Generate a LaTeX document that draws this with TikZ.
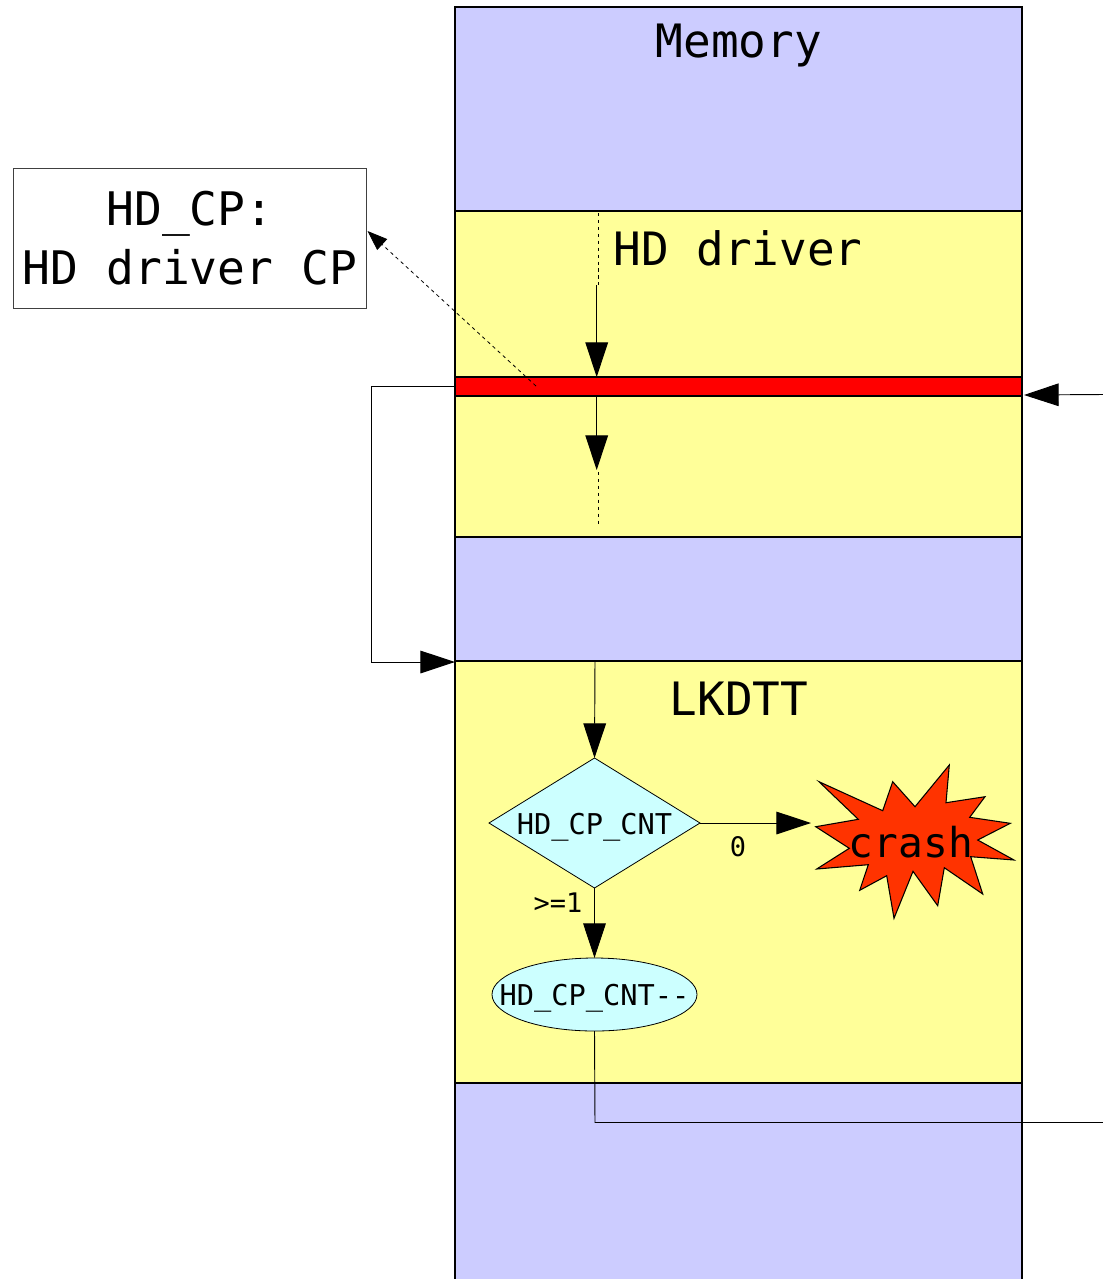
\documentclass[tikz,border=0pt]{standalone}
\usepackage{fontspec}
\usetikzlibrary{arrows.meta,shapes.geometric}
\newfontfamily\dvmono{DejaVu Sans Mono}
\definecolor{memblue}{HTML}{CCCCFF}
\definecolor{memyellow}{HTML}{FFFF99}
\definecolor{memred}{HTML}{FF0000}
\definecolor{crashred}{HTML}{FF3300}
\definecolor{shapecyan}{HTML}{CCFFFF}
\newcommand{\fsz}[1]{\fontsize{#1}{#1}\selectfont}
\newcommand{\shapetext}[2]{\raisebox{#1}[0pt][0pt]{\makebox[0pt]{#2}}}
\tikzset{
  x=0.75pt,y=-0.75pt,
  block/.style={draw=black,line width=1.1pt,minimum width=425.25pt,inner sep=0pt,outer sep=0pt},
  biglabel/.style={inner sep=0pt,outer sep=0pt,anchor=base,font=\dvmono\fsz{34.5}},
  smalllabel/.style={inner sep=0pt,outer sep=0pt,anchor=base,font=\dvmono\fsz{20.2}},
  wire/.style={draw=black,line width=0.7pt},
  flow/.style={wire,-{Triangle[length=26pt,width=17pt]}},
  dots/.style={draw=black,line width=0.6pt,dash pattern=on 2.6pt off 2.6pt},
  tinyflow/.style={dots,-{Triangle[length=15pt,width=11pt,sep=0pt]}},
  decide/.style={diamond,draw=black,line width=0.6pt,fill=shapecyan,aspect=1.62,inner sep=0pt,outer sep=0pt,minimum width=158.25pt,minimum height=97.5pt,font=\dvmono\fsz{21.5}},
  action/.style={ellipse,draw=black,line width=0.6pt,fill=shapecyan,inner sep=0pt,outer sep=0pt,minimum width=153.75pt,minimum height=54.75pt,font=\dvmono\fsz{21.5}},
}
\begin{document}
\begin{tikzpicture}
\useasboundingbox (0,0) rectangle (1103,1279);
% memory blocks
\node[block,fill=memblue,minimum height=153pt] (mem1) at (738.5,109) {};
\node[block,fill=memyellow,minimum height=244.5pt] (driver) at (738.5,374) {};
\node[block,fill=memblue,minimum height=93pt] (mem2) at (738.5,599) {};
\node[block,fill=memyellow,minimum height=316.5pt] (lkdtt) at (738.5,872) {};
\node[block,fill=memblue,minimum height=165pt] (mem3) at (738.5,1193) {};
\node[block,fill=memred,minimum height=14.25pt] (cpline) at (738.5,386.5) {};
% labels
\node[biglabel] (tmem) at (739,57) {Memory};
\node[biglabel] (tdrv) at (738,265.5) {HD driver};
\node[biglabel] (tlk) at (739,715) {LKDTT};
% explanation box
\node[draw=black!75,line width=0.6pt,fill=white,inner sep=0pt,outer sep=0pt,minimum width=264.75pt,minimum height=105pt,align=center,font=\dvmono\fontsize{34.7}{44.3}\selectfont] (cpbox) at (190,238)
  {HD\_CP:\\HD driver CP};
% free ends
\coordinate (d1) at (598,213);
\coordinate (d2) at (598,285);
\coordinate (s1) at (596.7,285);
\coordinate (s2) at (596.7,377);
\coordinate (s3) at (596.7,396);
\coordinate (s4) at (596.7,470);
\coordinate (d3) at (598.5,472);
\coordinate (d4) at (598.5,525);
\coordinate (ptfrom) at (536,386);
\coordinate (ptto) at (367.5,231);
\coordinate (rin1) at (1103,394.5);
\coordinate (rin2) at (1024,395);
\coordinate (el1) at (455,386.5);
\coordinate (el2) at (371.5,386.5);
\coordinate (el3) at (371.5,662);
\coordinate (el4) at (455,662);
\coordinate (ent) at (595,661);
\coordinate (exit1) at (595,1122.5);
\coordinate (exit2) at (1103,1122.5);
\coordinate (cr) at (811,823);
% shapes
\node[decide] (dec) at (594.5,823) {\shapetext{-8.8pt}{HD\_CP\_CNT}};
\node[action] (dcr) at (594.5,994.5) {\shapetext{-8.6pt}{HD\_CP\_CNT-{}-}};
\draw[draw=black,line width=0.8pt,fill=crashred] (819,781.7) -- (882.7,810.7) -- (892.7,781.7) -- (915,806.7) -- (949.3,765) -- (946,802.7) -- (985,796.7) -- (969.7,817.3) -- (1010.3,823.3) -- (977.7,840) -- (1014,860) -- (970.7,856.7) -- (982.7,894) -- (944.3,867.7) -- (937.7,905.7) -- (913,871.3) -- (894,918.3) -- (886.7,875.7) -- (859.7,890.3) -- (868.3,864.7) -- (816.7,869) -- (849.3,848.3) -- (815.7,826.7) -- (858.3,819.3) -- cycle;
\node[inner sep=0pt,outer sep=0pt,anchor=base,font=\dvmono\fsz{30.9}] (tcrash) at (911,857) {crash};
\node[smalllabel] (t0) at (738,856) {0};
\node[smalllabel] (t1) at (558,912.5) {>=1};
% connectors
\draw[dots] (d1) -- (d2);
\draw[flow] (s1) -- (s2);
\draw[flow] (s3) -- (s4);
\draw[dots] (d3) -- (d4);
\draw[tinyflow] (ptfrom) -- (ptto);
\draw[flow] (rin1) -- (rin2);
\draw[flow] (el1) -- (el2) -- (el3) -- (el4);
\draw[flow] (ent) -- (dec.north);
\draw[flow] (dec.east) -- (cr);
\draw[flow] (dec.south) -- (dcr.north);
\draw[wire] (dcr.south) -- (exit1) -- (exit2);
\end{tikzpicture}
\end{document}
